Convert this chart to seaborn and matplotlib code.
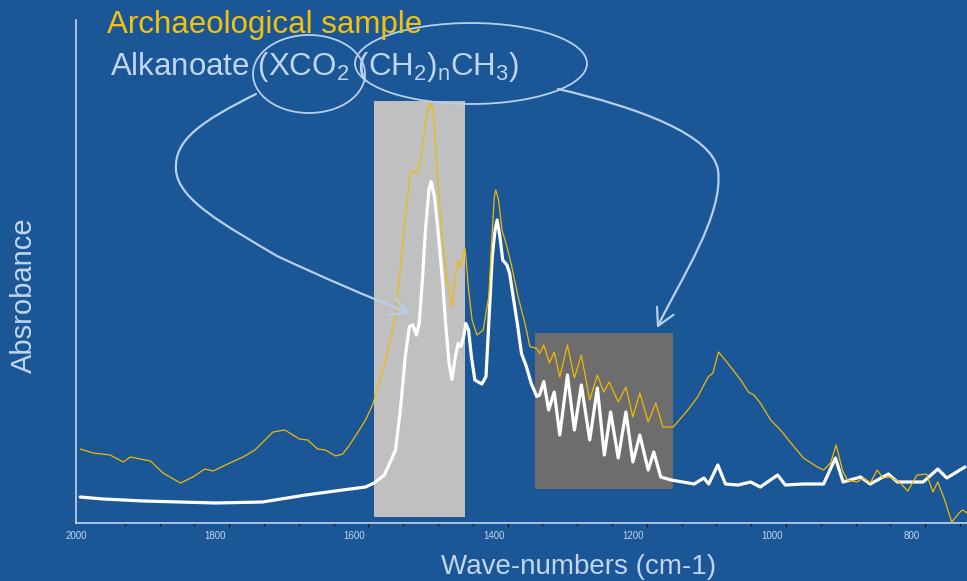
import numpy as np
import pandas as pd
import matplotlib
matplotlib.use("Agg")
import matplotlib.pyplot as plt
import seaborn as sns
from matplotlib.patches import Rectangle, Ellipse, FancyArrowPatch
from matplotlib.path import Path
from matplotlib.transforms import Affine2D

# ---------------- data ----------------
reference_wn = [1994, 1961, 1903, 1799, 1732, 1670, 1617, 1584, 1572, 1557, 1546, 1541,
                1534, 1527, 1521, 1516, 1511, 1507, 1502, 1498, 1493, 1490, 1485, 1480,
                1474, 1469, 1464, 1460, 1455, 1451, 1447, 1443, 1440, 1436, 1432, 1427,
                1417, 1411, 1407, 1402, 1398, 1395, 1391, 1387, 1381, 1377, 1372, 1366,
                1360, 1353, 1346, 1338, 1334, 1328, 1321, 1313, 1305, 1294, 1284, 1274,
                1262, 1251, 1241, 1232, 1221, 1210, 1200, 1190, 1178, 1170, 1160, 1145,
                1112, 1098, 1091, 1078, 1067, 1049, 1031, 1017, 992, 981, 955, 926, 909,
                898, 873, 859, 833, 820, 783, 762, 749, 723]
reference_abs = [0.052, 0.048, 0.044, 0.040, 0.042, 0.056, 0.066, 0.072, 0.080, 0.096, 0.130, 0.146,
                 0.226, 0.333, 0.393, 0.396, 0.376, 0.399, 0.493, 0.586, 0.666, 0.683, 0.653, 0.586,
                 0.493, 0.399, 0.319, 0.287, 0.333, 0.359, 0.353, 0.373, 0.399, 0.386, 0.333, 0.286,
                 0.278, 0.293, 0.399, 0.533, 0.586, 0.606, 0.573, 0.526, 0.516, 0.499, 0.453, 0.399,
                 0.339, 0.313, 0.279, 0.253, 0.256, 0.283, 0.226, 0.262, 0.176, 0.296, 0.186, 0.276,
                 0.166, 0.270, 0.136, 0.222, 0.130, 0.222, 0.122, 0.176, 0.106, 0.142, 0.092, 0.086,
                 0.078, 0.090, 0.078, 0.116, 0.078, 0.076, 0.082, 0.072, 0.096, 0.076, 0.078, 0.078, 0.130,
                 0.082, 0.092, 0.078, 0.098, 0.082, 0.082, 0.108, 0.090, 0.112]

sample_wn = [1994, 1975, 1951, 1932, 1922, 1893, 1875, 1850, 1832, 1815, 1803, 1779, 1760,
             1743, 1717, 1700, 1679, 1667, 1653, 1642, 1627, 1617, 1607, 1593, 1584, 1574,
             1555, 1541, 1531, 1524, 1520, 1515, 1510, 1504, 1498, 1493, 1490, 1486, 1481,
             1474, 1467, 1460, 1455, 1451, 1448, 1441, 1436, 1431, 1424, 1415, 1407, 1403,
             1399, 1397, 1393, 1388, 1381, 1374, 1365, 1355, 1348, 1338, 1334, 1328,
             1320, 1313, 1305, 1294, 1284, 1274, 1262, 1251, 1242, 1234, 1221, 1210, 1200,
             1190, 1178, 1167, 1157, 1142, 1121, 1107, 1092, 1085, 1077, 1064, 1045, 1034,
             1026, 1017, 1002, 988, 973, 955, 935, 926, 916, 908, 899, 892, 878, 869, 859,
             849, 841, 830, 816, 805, 792, 778, 769, 762, 752, 742, 730, 726, 720]
sample_abs = [0.148, 0.140, 0.136, 0.122, 0.132, 0.124, 0.100, 0.080, 0.092, 0.108, 0.104, 0.120, 0.132,
              0.146, 0.182, 0.186, 0.168, 0.166, 0.148, 0.146, 0.134, 0.138, 0.156, 0.186, 0.206, 0.236,
              0.326, 0.413, 0.553, 0.646, 0.699, 0.704, 0.699, 0.733, 0.799, 0.833, 0.841, 0.813, 0.699,
              0.573, 0.486, 0.433, 0.493, 0.526, 0.513, 0.549, 0.466, 0.406, 0.376, 0.386, 0.453, 0.559,
              0.653, 0.666, 0.646, 0.586, 0.553, 0.513, 0.453, 0.399, 0.353, 0.349, 0.339, 0.356,
              0.320, 0.342, 0.292, 0.356, 0.290, 0.336, 0.246, 0.296, 0.262, 0.282, 0.242, 0.272, 0.212,
              0.260, 0.202, 0.240, 0.192, 0.192, 0.226, 0.252, 0.292, 0.300, 0.342, 0.320, 0.286, 0.262,
              0.256, 0.240, 0.206, 0.186, 0.160, 0.130, 0.112, 0.106, 0.120, 0.156, 0.106, 0.086, 0.082,
              0.090, 0.080, 0.106, 0.090, 0.092, 0.080, 0.064, 0.096, 0.098, 0.062, 0.082, 0.046, 0.002,
              0.022, 0.026, 0.020]

# highlighted bands: (high wavenumber, low wavenumber, low absorbance, high absorbance)
carboxylate_band = [1572, 1441, 0.012, 0.844]
methylene_band = [1340, 1142, 0.068, 0.380]

tick_label_values = [2000, 1800, 1600, 1400, 1200, 1000, 800]
tick_mark_major = [1780, 1580, 1380, 1180, 980, 780]
tick_mark_minor = list(range(1930, 720, -50))

# ---------------- styling ----------------
BG = "#1b5796"
LIGHT = "#c0d5ef"
YELLOW = "#f2b900"
TITLE_YELLOW = "#f4c20d"

sns.set_theme(style="ticks")
plt.rcParams["font.family"] = ["Liberation Sans", "DejaVu Sans"]
plt.rcParams["mathtext.fontset"] = "custom"
plt.rcParams["mathtext.rm"] = "Liberation Sans"
plt.rcParams["mathtext.it"] = "Liberation Sans:italic"
plt.rcParams["mathtext.bf"] = "Liberation Sans:bold"

W, H = 967, 581
fig = plt.figure(figsize=(W / 100, H / 100), dpi=100)
fig.patch.set_facecolor(BG)
ax = fig.add_axes([76 / W, (H - 523) / H, (W - 76) / W, 503 / H])
ax.set_facecolor(BG)

df_ref = pd.DataFrame({"wavenumber": reference_wn, "absorbance": reference_abs})
df_smp = pd.DataFrame({"wavenumber": sample_wn, "absorbance": sample_abs})

# bands
ax.add_patch(Rectangle((carboxylate_band[1], carboxylate_band[2]),
                       carboxylate_band[0] - carboxylate_band[1],
                       carboxylate_band[3] - carboxylate_band[2],
                       facecolor="#c0c0c0", edgecolor="none", zorder=1))
ax.add_patch(Rectangle((methylene_band[1], methylene_band[2]),
                       methylene_band[0] - methylene_band[1],
                       methylene_band[3] - methylene_band[2],
                       facecolor="#6d6d6d", edgecolor="none", zorder=1))

sns.lineplot(data=df_ref, x="wavenumber", y="absorbance", ax=ax, color="white",
             linewidth=2.3, estimator=None, zorder=3)
sns.lineplot(data=df_smp, x="wavenumber", y="absorbance", ax=ax, color=YELLOW,
             linewidth=0.9, estimator=None, zorder=4)

ax.set_xlim(1995, 720)
ax.set_ylim(0, 1.006)
ax.set_xlabel("")
ax.set_ylabel("")
ax.set_yticks([])

for s in ["top", "right"]:
    ax.spines[s].set_visible(False)
for s in ["left", "bottom"]:
    ax.spines[s].set_color(LIGHT)
    ax.spines[s].set_linewidth(1.2)

ax.set_xticks(tick_label_values)
ax.set_xticklabels([str(v) for v in tick_label_values])
ax.tick_params(axis="x", which="major", length=0, pad=6, labelsize=7, labelcolor=LIGHT)
ax.set_xticks(tick_mark_minor, minor=True)
ax.tick_params(axis="x", which="minor", length=2, width=0.8, color="#1a1a1a", direction="out")

sec = ax.secondary_xaxis("bottom")
sec.set_xticks(tick_mark_major)
sec.set_xticklabels([""] * len(tick_mark_major))
sec.tick_params(length=3.2, width=1.0, color="#1a1a1a")
sec.spines["bottom"].set_visible(False)

# ---------------- annotations (figure pixel coordinates) ----------------
pix = Affine2D().scale(1 / W, -1 / H).translate(0, 1) + fig.transFigure

fig.text(107 / W, 1 - 33 / H, "Archaeological sample", color=TITLE_YELLOW,
         fontsize=22.5, ha="left", va="baseline")
fig.text(110 / W, 1 - 75 / H, r"Alkanoate (XCO$_2$ (CH$_2$)$_\mathrm{n}$CH$_3$)", color=LIGHT,
         fontsize=22.5, ha="left", va="baseline")
fig.text(24 / W, 1 - 295 / H, "Absrobance", color=LIGHT, fontsize=21,
         rotation=90, ha="center", va="center")
fig.text(579 / W, 1 - 567 / H, "Wave-numbers (cm-1)", color=LIGHT, fontsize=20,
         ha="center", va="center")

ARROW = "#b7cfec"
fig.add_artist(Ellipse((309, 74), 112, 78, transform=pix, fill=False,
                       edgecolor=ARROW, linewidth=1.3))
fig.add_artist(Ellipse((471, 63.5), 232, 81, transform=pix, fill=False,
                       edgecolor=ARROW, linewidth=1.3))

C = Path.CURVE4
p1 = Path([(256, 94), (200, 122), (174, 140), (176, 170),
           (178, 200), (225, 225), (277, 256),
           (320, 276), (370, 298), (410, 313)],
          [Path.MOVETO, C, C, C, C, C, C, C, C, C])
p2 = Path([(558, 89), (640, 108), (712, 135), (718, 170),
           (724, 215), (680, 280), (657, 328)],
          [Path.MOVETO, C, C, C, C, C, C])
for p in (p1, p2):
    fig.add_artist(FancyArrowPatch(path=p, transform=pix,
                                   arrowstyle="->,head_length=0.55,head_width=0.3",
                                   mutation_scale=22, color=ARROW, linewidth=1.6))

fig.savefig("out.png", dpi=100, facecolor=BG)
